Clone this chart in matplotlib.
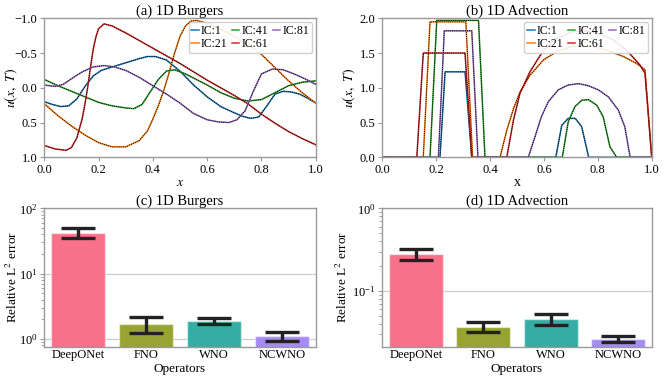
import numpy as np
import matplotlib
matplotlib.use("Agg")
import matplotlib.pyplot as plt
import seaborn as sns

plt.rcParams['font.family'] = ['Liberation Serif', 'DejaVu Serif']
plt.rcParams['mathtext.fontset'] = 'stix'
plt.rcParams['axes.edgecolor'] = '0.6'
plt.rcParams['xtick.color'] = '0.6'
plt.rcParams['ytick.color'] = '0.6'
plt.rcParams['xtick.labelcolor'] = 'black'
plt.rcParams['ytick.labelcolor'] = 'black'
plt.rcParams['axes.linewidth'] = 1.0

# ---- (a) 1D Burgers, u(x,T) for a few initial conditions ----
burg_x_ic1 = [0, 0.03, 0.06, 0.09, 0.12, 0.15, 0.18, 0.21, 0.25, 0.3, 0.35, 0.38, 0.41, 0.45,
              0.5, 0.55, 0.6, 0.65, 0.7, 0.73, 0.76, 0.79, 0.82, 0.85, 0.88, 0.91, 0.94, 0.97, 1.0]
burg_u_ic1 = [0.20, 0.24, 0.27, 0.26, 0.16, -0.02, -0.17, -0.25, -0.30, -0.36, -0.42, -0.45, -0.45, -0.40,
              -0.24, -0.04, 0.13, 0.27, 0.36, 0.41, 0.44, 0.42, 0.26, 0.09, 0.05, 0.06, 0.09, 0.15, 0.22]

burg_x_ic21 = [0, 0.05, 0.1, 0.15, 0.2, 0.25, 0.3, 0.35, 0.38, 0.4, 0.42, 0.44, 0.46, 0.48, 0.5,
               0.52, 0.54, 0.56, 0.6, 0.65, 0.7, 0.75, 0.8, 0.85, 0.9, 0.95, 1.0]
burg_u_ic21 = [0.23, 0.40, 0.55, 0.68, 0.79, 0.85, 0.85, 0.76, 0.62, 0.45, 0.26, 0.04, -0.22, -0.50, -0.74,
               -0.89, -0.96, -0.97, -0.93, -0.84, -0.74, -0.62, -0.48, -0.29, -0.10, 0.07, 0.22]

burg_x_ic41 = [0, 0.05, 0.1, 0.15, 0.2, 0.25, 0.3, 0.33, 0.36, 0.39, 0.42, 0.45, 0.48, 0.52, 0.56,
               0.6, 0.65, 0.7, 0.75, 0.8, 0.85, 0.9, 0.95, 1.0]
burg_u_ic41 = [-0.12, -0.03, 0.05, 0.13, 0.21, 0.26, 0.29, 0.30, 0.24, 0.06, -0.12, -0.24, -0.26, -0.20, -0.12,
               -0.04, 0.07, 0.15, 0.19, 0.17, 0.07, -0.03, -0.08, -0.10]

burg_x_ic61 = [0, 0.04, 0.08, 0.1, 0.12, 0.14, 0.15, 0.16, 0.17, 0.18, 0.19, 0.2, 0.22, 0.25, 0.3,
               0.35, 0.4, 0.45, 0.5, 0.55, 0.6, 0.65, 0.7, 0.75, 0.8, 0.85, 0.9, 0.95, 1.0]
burg_u_ic61 = [0.83, 0.88, 0.90, 0.86, 0.72, 0.44, 0.23, -0.01, -0.29, -0.55, -0.73, -0.85, -0.92, -0.89, -0.79,
               -0.68, -0.57, -0.46, -0.35, -0.23, -0.11, 0.00, 0.11, 0.23, 0.38, 0.51, 0.63, 0.73, 0.82]

burg_x_ic81 = [0, 0.04, 0.07, 0.1, 0.14, 0.18, 0.22, 0.26, 0.3, 0.35, 0.4, 0.45, 0.5, 0.55, 0.6,
               0.64, 0.68, 0.71, 0.74, 0.77, 0.8, 0.84, 0.88, 0.92, 0.96, 1.0]
burg_u_ic81 = [-0.04, -0.02, -0.05, -0.13, -0.23, -0.30, -0.32, -0.30, -0.25, -0.15, -0.03, 0.09, 0.22, 0.37, 0.46,
               0.49, 0.50, 0.46, 0.33, 0.05, -0.20, -0.27, -0.26, -0.20, -0.13, -0.05]

# ---- (b) 1D Advection ----
adv_x_ic1 = [0, 0.214, 0.233, 0.307, 0.332, 0.644, 0.666, 0.69, 0.716, 0.74, 0.766, 1.0]
adv_u_ic1 = [0, 0, 1.23, 1.23, 0, 0, 0.46, 0.56, 0.56, 0.44, 0, 0]

adv_x_ic21 = [0, 0.152, 0.177, 0.31, 0.335, 0.437, 0.462, 0.487, 0.511, 0.548, 0.598, 0.647,
              0.709, 0.771, 0.833, 0.895, 0.944, 0.975, 1.0]
adv_u_ic21 = [0, 0, 1.95, 1.95, 0, 0, 0.39, 0.70, 0.94, 1.18, 1.40, 1.52,
              1.60, 1.60, 1.54, 1.45, 1.35, 1.26, 0]

adv_x_ic41 = [0, 0.177, 0.202, 0.357, 0.381, 0.668, 0.69, 0.715, 0.74, 0.765, 0.796, 0.82, 0.845, 0.87, 1.0]
adv_u_ic41 = [0, 0, 1.97, 1.97, 0, 0, 0.51, 0.73, 0.82, 0.83, 0.75, 0.58, 0.15, 0, 0]

adv_x_ic61 = [0, 0.128, 0.152, 0.307, 0.332, 0.462, 0.487, 0.511, 0.548, 0.598, 0.647, 0.709,
              0.746, 0.796, 0.857, 0.907, 0.956, 0.975, 1.0]
adv_u_ic61 = [0, 0, 1.50, 1.50, 0, 0, 0.54, 0.92, 1.23, 1.54, 1.71, 1.81,
              1.82, 1.79, 1.69, 1.54, 1.33, 1.21, 0]

adv_x_ic81 = [0, 0.208, 0.23, 0.332, 0.355, 0.542, 0.567, 0.59, 0.616, 0.653, 0.69, 0.728,
              0.765, 0.802, 0.839, 0.876, 0.9, 0.92, 1.0]
adv_u_ic81 = [0, 0, 1.82, 1.82, 0, 0, 0.30, 0.58, 0.80, 0.97, 1.04, 1.06,
              1.03, 0.97, 0.87, 0.68, 0.44, 0, 0]

ic_labels = ["IC:1", "IC:21", "IC:41", "IC:61", "IC:81"]
ic_colors = ["tab:blue", "tab:orange", "tab:green", "tab:red", "tab:purple"]

# ---- (c),(d) relative L2 errors ----
operators = ["DeepONet", "FNO", "WNO", "NCWNO"]
burgers_err = [42.0, 1.68, 1.87, 1.09]
burgers_std = [7.5, 0.45, 0.20, 0.17]
advection_err = [0.28, 0.037, 0.046, 0.0263]
advection_std = [0.045, 0.005, 0.007, 0.0023]

bar_colors = sns.color_palette("husl", 4)

fig = plt.figure(figsize=(6.64, 3.8), dpi=100)
ax_a = fig.add_axes([0.0667, 0.5861, 0.4088, 0.3657])
ax_b = fig.add_axes([0.5758, 0.5861, 0.4057, 0.3657])
ax_c = fig.add_axes([0.0667, 0.0876, 0.4088, 0.3642])
ax_d = fig.add_axes([0.5758, 0.0876, 0.4057, 0.3642])

burg = [(burg_x_ic1, burg_u_ic1), (burg_x_ic21, burg_u_ic21), (burg_x_ic41, burg_u_ic41),
        (burg_x_ic61, burg_u_ic61), (burg_x_ic81, burg_u_ic81)]
adv = [(adv_x_ic1, adv_u_ic1), (adv_x_ic21, adv_u_ic21), (adv_x_ic41, adv_u_ic41),
       (adv_x_ic61, adv_u_ic61), (adv_x_ic81, adv_u_ic81)]

for ax, curves, title in [(ax_a, burg, "(a) 1D Burgers"), (ax_b, adv, "(b) 1D Advection")]:
    for (xs, us), lab, c in zip(curves, ic_labels, ic_colors):
        ax.plot(xs, us, color=c, lw=1.1, label=lab)
        ax.plot(xs, us, color="black", lw=0.7, ls=(0, (1, 1.2)))
    ax.set_xlim(0, 1)
    ax.set_title(title, fontsize=10.5, pad=2)
    ax.tick_params(labelsize=9, length=3, pad=2)
    ax.legend(ncol=3, fontsize=8.5, loc="upper right", handlelength=0.6, handletextpad=0.2,
              columnspacing=0.4, labelspacing=0.1, borderpad=0.25, borderaxespad=0.3,
              framealpha=0.9)

ax_a.set_ylim(1.0, -1.0)
ax_a.set_yticks([-1.0, -0.5, 0.0, 0.5, 1.0])
ax_a.set_xlabel("$x$", fontsize=10, labelpad=0)
ax_a.set_ylabel("$u(x,\\ T)$", fontsize=10)
ax_a.yaxis.set_label_coords(-0.088, 0.5)

ax_b.set_ylim(0, 2.0)
ax_b.set_yticks([0.0, 0.5, 1.0, 1.5, 2.0])
ax_b.set_xlabel("x", fontsize=10, labelpad=0)
ax_b.set_ylabel("$u(x,\\ T)$", fontsize=10)
ax_b.yaxis.set_label_coords(-0.09, 0.5)

pos = np.arange(len(operators))
for ax, err, std, title, ylim, lx in [(ax_c, burgers_err, burgers_std, "(c) 1D Burgers", (0.76, 100), -0.09),
                                      (ax_d, advection_err, advection_std, "(d) 1D Advection", (0.0212, 1.0), -0.12)]:
    ax.bar(pos, err, width=0.8, color=bar_colors, edgecolor=(1, 1, 1, 0.5), linewidth=1)
    ax.errorbar(pos, err, yerr=std, fmt="none", ecolor="#222222", elinewidth=2.4,
                capsize=12, capthick=2.4)
    ax.set_yscale("log")
    ax.set_ylim(*ylim)
    ax.set_xlim(-0.5, 3.5)
    ax.set_xticks(pos)
    ax.set_xticklabels(operators)
    ax.set_axisbelow(True)
    ax.yaxis.grid(True, which="major", color="0.8", lw=0.9)
    ax.set_title(title, fontsize=10.5, pad=2)
    ax.set_xlabel("Operators", fontsize=9.5, labelpad=1)
    ax.set_ylabel("Relative L$^2$ error", fontsize=9.5)
    ax.yaxis.set_label_coords(lx, 0.5)
    ax.tick_params(labelsize=9, length=3, pad=2)
    ax.tick_params(axis="x", length=0)

fig.savefig("out.png", dpi=100)
